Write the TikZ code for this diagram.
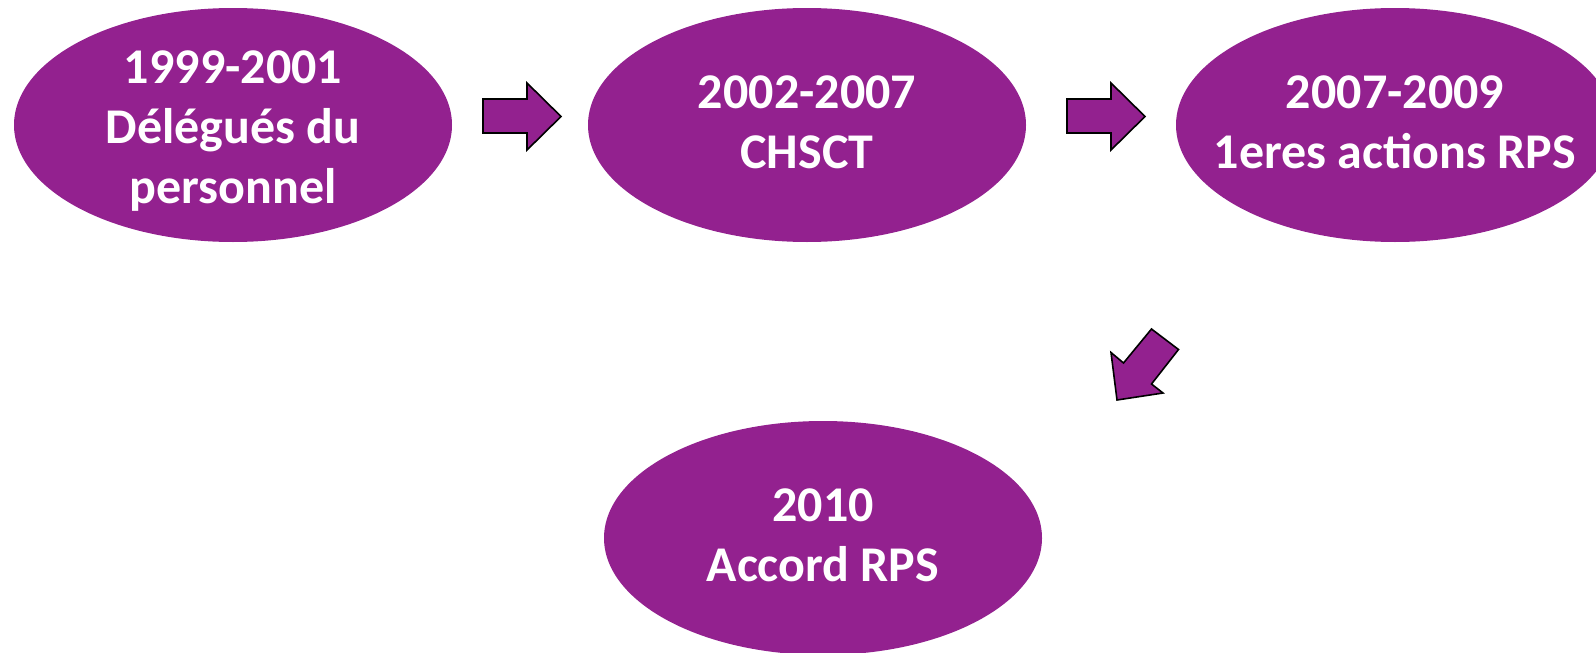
\documentclass[tikz,border=0pt]{standalone}
\usepackage{fontspec}
\setmainfont{Carlito}
\usetikzlibrary{shapes.geometric}
\definecolor{purp}{HTML}{93218F}
\tikzset{
  stage/.style={ellipse, fill=purp, draw=none, minimum width=438pt, minimum height=234pt, inner sep=0pt},
  stagetext/.style={text=white, align=center, inner sep=0pt, font=\bfseries\fontsize{50}{60}\selectfont},
  blockarrow/.style={fill=purp, draw=black, line width=1.6pt, line join=miter}
}
\begin{document}
\begin{tikzpicture}[x=1pt,y=-1pt]
\useasboundingbox (0,0) rectangle (1596,653);
\clip (0,0) rectangle (1596,653);
\node[stage, label={[stagetext, yshift=-6pt]center:{1999-2001\\Délégués du\\personnel}}] (s1) at (233,125) {};
\node[stage, label={[stagetext, yshift=3pt]center:{2002-2007\\CHSCT}}] (s2) at (807,125) {};
\node[stage, label={[stagetext, yshift=3pt]center:{2007-2009\\1eres actions RPS}}] (s3) at (1395,125) {};
\node[stage, label={[stagetext, yshift=3pt]center:{2010\\Accord RPS}}] (s4) at (823,538) {};
% block arrows
\draw[blockarrow] (483,99) -- (527,99) -- (527,83) -- (561,116.5) -- (527,150) -- (527,133) -- (483,133) -- cycle;
\draw[blockarrow] (1067,99) -- (1111,99) -- (1111,83) -- (1145,116.5) -- (1111,150) -- (1111,133) -- (1067,133) -- cycle;
\draw[blockarrow] (1151.5,329) -- (1178.5,349.5) -- (1151.5,384) -- (1163,393) -- (1117,400) -- (1111,352.5) -- (1123.5,363) -- cycle;
\end{tikzpicture}
\end{document}
